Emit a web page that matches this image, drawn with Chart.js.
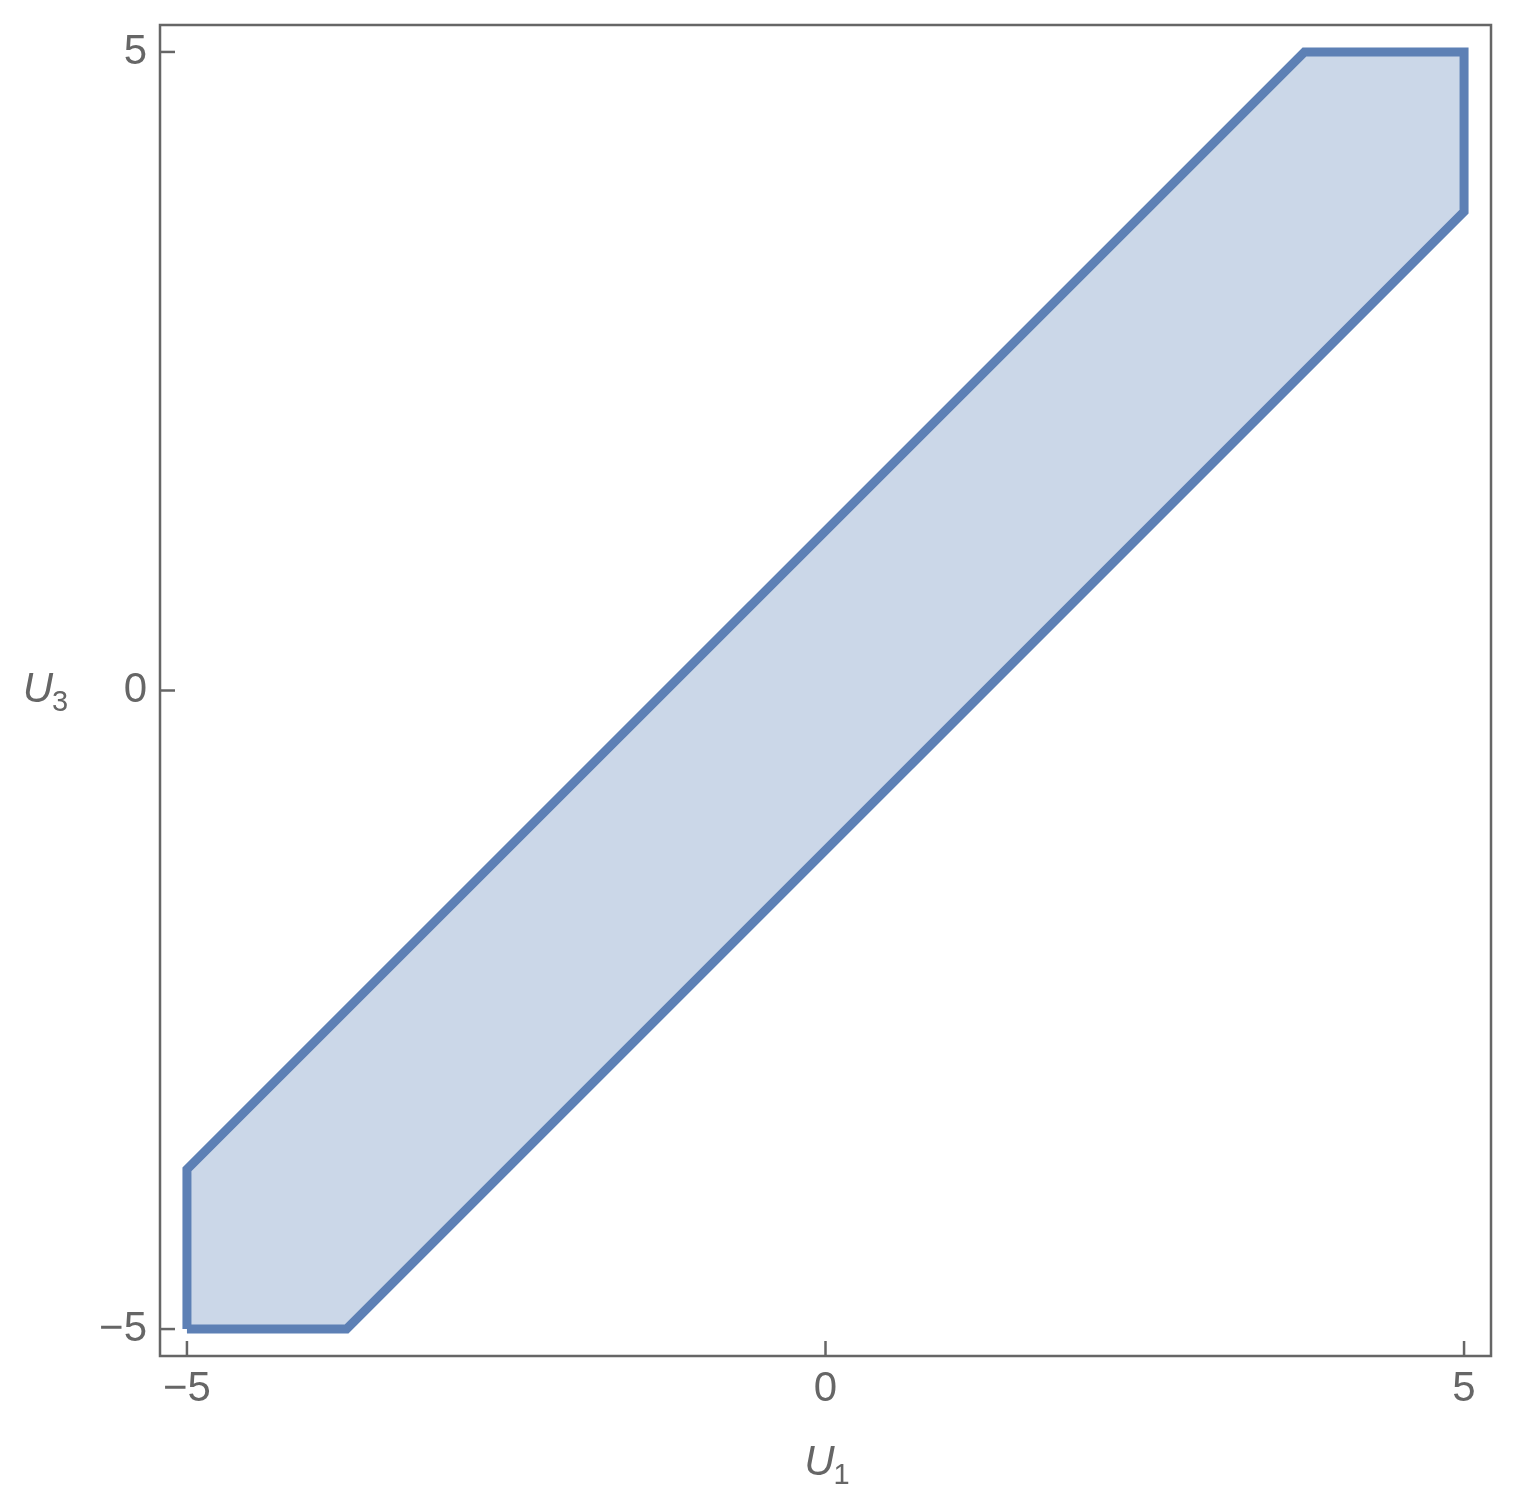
<!DOCTYPE html>
<html>
<head>
<meta charset="utf-8">
<script src="https://cdn.jsdelivr.net/npm/chart.js@4.4.1/dist/chart.umd.min.js"></script>
<style>
  html, body { margin: 0; padding: 0; background: #fff; }
  #wrap { width: 1515px; height: 1505px; }
</style>
</head>
<body>
<div id="wrap"><canvas id="myChart" width="1515" height="1505"></canvas></div>
<script>
// region boundary |U1 - U3| <= 1.25 inside the box [-5,5]^2
const u1Boundary = [-5, -3.75, 5, 5, 3.75, -5];
const u3Boundary = [-5, -5, 3.75, 5, 5, -3.75];
const tickValues = [-5, 0, 5];
const tickLabels = ['\u22125', '0', '5'];
const axisMin = -5.211;
const axisMax = 5.211;

const GRAY = '#666666';
const FONT = '"Liberation Sans", Arial, sans-serif';

const points = u1Boundary.map((x, i) => ({ x: x, y: u3Boundary[i] }));
points.push(points[0]);

const frameAndTitles = {
    id: 'frameAndTitles',
    afterDraw(chart) {
        const ctx = chart.ctx;
        const a = chart.chartArea;
        const xs = chart.scales.x;
        const ys = chart.scales.y;
        ctx.save();
        ctx.strokeStyle = GRAY;
        ctx.lineWidth = 2.5;
        ctx.strokeRect(a.left, a.top, a.right - a.left, a.bottom - a.top);

        // inward ticks on left and bottom
        ctx.lineWidth = 2.5;
        tickValues.forEach(v => {
            const px = xs.getPixelForValue(v);
            ctx.beginPath();
            ctx.moveTo(px, a.bottom);
            ctx.lineTo(px, a.bottom - 15);
            ctx.stroke();
            const py = ys.getPixelForValue(v);
            ctx.beginPath();
            ctx.moveTo(a.left, py);
            ctx.lineTo(a.left + 15, py);
            ctx.stroke();
        });

        // axis titles U_1 and U_3
        ctx.fillStyle = GRAY;
        ctx.textBaseline = 'alphabetic';
        function drawSub(main, sub, cx, baseY) {
            ctx.font = 'italic 42px ' + FONT;
            const w1 = ctx.measureText(main).width;
            ctx.font = '29px ' + FONT;
            const w2 = ctx.measureText(sub).width;
            const left = cx - (w1 + w2) / 2;
            ctx.font = 'italic 42px ' + FONT;
            ctx.textAlign = 'left';
            ctx.fillText(main, left, baseY);
            ctx.font = '29px ' + FONT;
            ctx.fillText(sub, left + w1 - 1, baseY + 9);
        }
        drawSub('U', '1', (a.left + a.right) / 2 + 2, 1475);
        drawSub('U', '3', 46, 702);
        ctx.restore();
    }
};

function initChart() {
    const ctx = document.getElementById('myChart').getContext('2d');
    new Chart(ctx, {
        type: 'scatter',
        data: {
            datasets: [{
                data: points,
                showLine: true,
                fill: 'shape',
                backgroundColor: '#cbd7e8',
                borderColor: '#5d80b5',
                borderWidth: 9,
                borderJoinStyle: 'miter',
                pointRadius: 0,
                tension: 0,
                clip: false
            }]
        },
        options: {
            responsive: false,
            animation: false,
            layout: { padding: { top: 25, right: 24, left: 0, bottom: 0 } },
            plugins: {
                legend: { display: false },
                tooltip: { enabled: false }
            },
            scales: {
                x: {
                    type: 'linear',
                    min: axisMin,
                    max: axisMax,
                    afterBuildTicks: s => { s.ticks = tickValues.map(v => ({ value: v })); },
                    afterFit: s => { s.height = 149; s.paddingLeft = 0; s.paddingRight = 0; },
                    grid: { display: false, drawTicks: false },
                    border: { display: false },
                    ticks: {
                        color: GRAY,
                        font: { family: FONT, size: 42 },
                        padding: 8,
                        maxRotation: 0,
                        callback: v => tickLabels[tickValues.indexOf(v)]
                    }
                },
                y: {
                    type: 'linear',
                    min: axisMin,
                    max: axisMax,
                    afterBuildTicks: s => { s.ticks = tickValues.map(v => ({ value: v })); },
                    afterFit: s => { s.width = 160; s.paddingTop = 0; s.paddingBottom = 0; },
                    grid: { display: false, drawTicks: false },
                    border: { display: false },
                    ticks: {
                        color: GRAY,
                        font: { family: FONT, size: 42 },
                        padding: 13,
                        callback: v => tickLabels[tickValues.indexOf(v)]
                    }
                }
            }
        },
        plugins: [frameAndTitles]
    });
}

initChart();
</script>
</body>
</html>
